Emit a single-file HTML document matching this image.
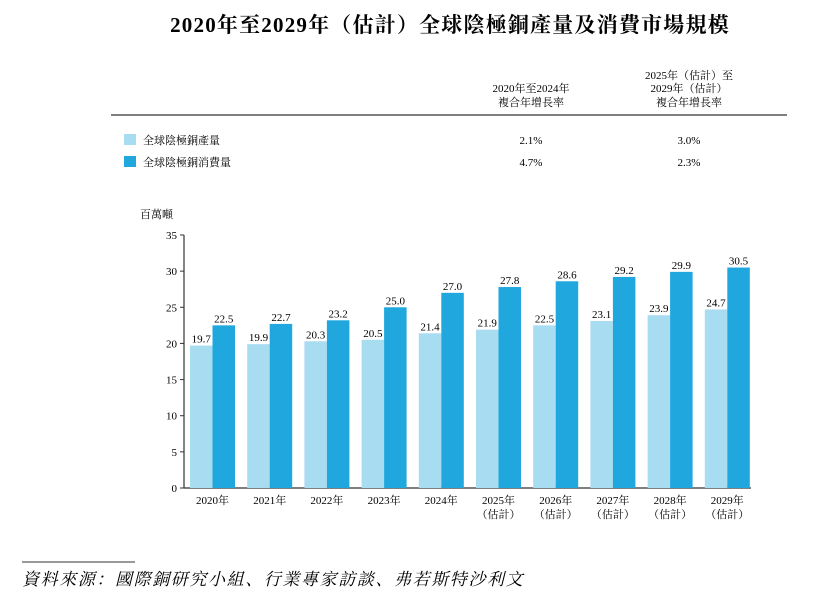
<!DOCTYPE html>
<html><head><meta charset="utf-8">
<style>
body{margin:0;background:#fff;width:830px;height:597px;overflow:hidden;font-family:"Liberation Serif","Noto Serif CJK SC","Noto Sans CJK TC",serif;color:#222}
svg text{font-family:"Liberation Serif","Noto Serif CJK SC","Noto Sans CJK TC",serif}
</style></head><body>
<svg width="830" height="597">
<text x="450" y="32" text-anchor="middle" font-size="21" font-weight="bold" letter-spacing="1.2">2020年至2029年（估計）全球陰極銅產量及消費市場規模</text>
<g font-size="11" text-anchor="middle">
<text x="531" y="92">2020年至2024年</text><text x="531" y="106">複合年增長率</text>
<text x="689" y="79">2025年（估計）至</text><text x="689" y="92">2029年（估計）</text><text x="689" y="106">複合年增長率</text>
</g>
<line x1="111" y1="115" x2="787" y2="115" stroke="#555" stroke-width="1.5"/>
<rect x="124" y="134" width="12" height="11" fill="#a8dcf0"/>
<text x="143" y="144" font-size="11">全球陰極銅產量</text>
<rect x="124" y="156" width="12" height="11" fill="#1fa7de"/>
<text x="143" y="166" font-size="11">全球陰極銅消費量</text>
<g font-size="11" text-anchor="middle">
<text x="531" y="144">2.1%</text><text x="689" y="144">3.0%</text>
<text x="531" y="166">4.7%</text><text x="689" y="166">2.3%</text>
</g>
<text x="140" y="218" font-size="11">百萬噸</text>
<g id="plot"></g>
<line x1="22" y1="562" x2="135" y2="562" stroke="#333" stroke-width="1"/>
<text x="22" y="585" font-size="17" font-style="italic" letter-spacing="1.6">資料來源：國際銅研究小組、行業專家訪談、弗若斯特沙利文</text>
</svg>
<script>
const categories=["2020年","2021年","2022年","2023年","2024年","2025年","2026年","2027年","2028年","2029年"];
const estimated=[false,false,false,false,false,true,true,true,true,true];
const production=[19.7,19.9,20.3,20.5,21.4,21.9,22.5,23.1,23.9,24.7];
const consumption=[22.5,22.7,23.2,25.0,27.0,27.8,28.6,29.2,29.9,30.5];
const yTicks=[0,5,10,15,20,25,30,35];
const NS="http://www.w3.org/2000/svg";
const g=document.getElementById('plot');
const x0=184,y0=488,yTop=235,yMax=35,groupW=57.2,barW=22.5,firstX=190;
const y=v=>y0-(v/yMax)*(y0-yTop);
const gx=i=>firstX+i*groupW;
function mk(t,a,p){const e=document.createElementNS(NS,t);for(const k in a)e.setAttribute(k,a[k]);(p||g).appendChild(e);return e;}
const ax=mk('line',{x1:x0,y1:yTop,x2:x0,y2:y0,stroke:'#333','stroke-width':1.2});


const bx=mk('line',{x1:x0,y1:y0,x2:751,y2:y0,stroke:'#333','stroke-width':1.2});


yTicks.forEach(v=>{
  const t=mk('line',{x1:x0-4,y1:y(v),x2:x0,y2:y(v),stroke:'#333'});
  
  
  const l=mk('text',{x:x0-7,y:y(v)+4,'text-anchor':'end','font-size':11});
  l.textContent=v;
  
  
});
categories.forEach((c,i)=>{
  const xs=gx(i);
  [[production[i],'#a8dcf0','production'],[consumption[i],'#1fa7de','consumption']].forEach(([v,col,n],k)=>{
    const bxp=xs+k*barW;
    const r=mk('rect',{x:bxp,y:y(v),width:barW,height:y0-y(v),fill:col});
    
    
    const t=mk('text',{x:bxp+barW/2,y:y(v)-3,'text-anchor':'middle','font-size':11});
    t.textContent=v.toFixed(1);
    
    
  });
  const cx=xs+barW;
  const t=mk('text',{x:cx,y:y0+16,'text-anchor':'middle','font-size':11});
  t.textContent=c;
  
  
  if(estimated[i]){
    const e=mk('text',{x:cx,y:y0+30,'text-anchor':'middle','font-size':11});
    e.textContent='（估計）';
    
    
  }
});
</script>
</body></html>
